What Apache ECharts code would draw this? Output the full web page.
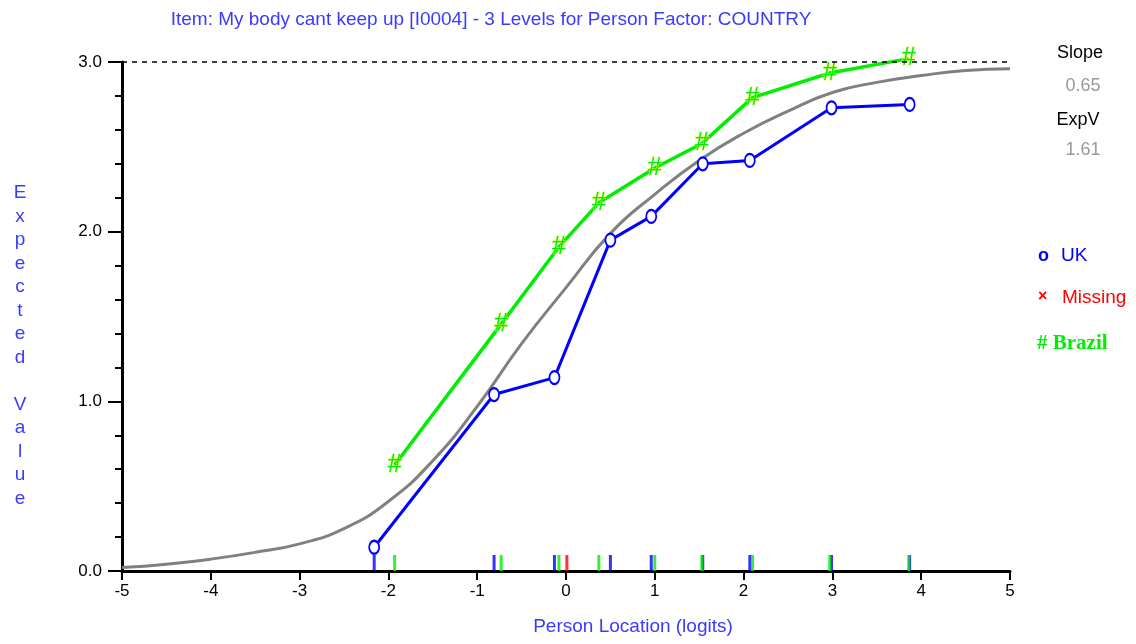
<!DOCTYPE html>
<html>
<head>
<meta charset="utf-8">
<script src="https://cdn.jsdelivr.net/npm/echarts@6/dist/echarts.min.js"></script>
<style>
html,body{margin:0;padding:0;background:#fff;}
#chart{width:1136px;height:644px;}
</style>
</head>
<body>
<div id="chart"></div>
<script>
// ---- data ----
const curveX = [-5,-4.5,-4,-3.5,-3,-2.5,-2,-1.5,-1,-0.5,0,0.5,1,1.5,2,2.5,3,3.5,4,4.5,5];
const curveY = [0.02,0.04,0.07,0.11,0.16,0.25,0.41,0.65,0.97,1.34,1.67,1.99,2.22,2.42,2.58,2.71,2.82,2.88,2.92,2.95,2.96];
const ukX = [-2.16,-0.81,-0.13,0.50,0.96,1.54,2.07,2.99,3.87];
const ukY = [0.14,1.04,1.14,1.95,2.09,2.40,2.42,2.73,2.75];
const brazilX = [-1.93,-0.73,-0.08,0.37,1.00,1.53,2.10,2.97,3.86];
const brazilY = [0.625,1.455,1.91,2.17,2.375,2.52,2.79,2.935,3.02];
const missingX = [0.01];
const yTicks = [0, 1, 2, 3];
const xTicks = [-5,-4,-3,-2,-1,0,1,2,3,4,5];
const titleText = 'Item: My body cant keep up [I0004] - 3 Levels for Person Factor: COUNTRY';
const slopeVal = '0.65';
const expVVal = '1.61';

const zip = (a, b) => a.map((v, i) => [v, b[i]]);
const FONT = '"Liberation Sans",Arial,sans-serif';
const BLUE = '#0000ff', GREEN = '#00ee00', RED = '#ff0000', GRAY = '#808080', TXTBLUE = '#3a3aff';

const chart = echarts.init(document.getElementById('chart'));
const option = {
  animation: false,
  backgroundColor: '#fff',
  grid: { left: 122, right: 126, top: 62, bottom: 73 },
  xAxis: {
    type: 'value', min: -5, max: 5, interval: 1,
    axisLine: { onZero: false, lineStyle: { color: '#000', width: 3 } },
    axisTick: { length: 9, lineStyle: { color: '#000', width: 2 } },
    axisLabel: { color: '#000', fontSize: 17, fontFamily: FONT, margin: 12,
      formatter: v => xTicks.includes(v) ? String(v) : '' },
    splitLine: { show: false }
  },
  yAxis: {
    type: 'value', min: 0, max: 3, interval: 1,
    axisLine: { show: true, onZero: false, lineStyle: { color: '#000', width: 3 } },
    axisTick: { show: true, length: 14, lineStyle: { color: '#000', width: 2 } },
    minorTick: { show: true, splitNumber: 5, length: 7, lineStyle: { color: '#000', width: 2 } },
    axisLabel: { color: '#000', fontSize: 17, fontFamily: FONT, margin: 20,
      formatter: v => yTicks.includes(v) ? v.toFixed(1) : '' },
    splitLine: { show: false }
  },
  series: [
    {
      name: 'Expected', type: 'line', smooth: true, showSymbol: false, clip: false,
      data: zip(curveX, curveY),
      lineStyle: { color: GRAY, width: 3 },
      markLine: {
        silent: true, symbol: 'none', label: { show: false },
        lineStyle: { color: '#000', type: [5, 5], width: 1.5 },
        data: [{ yAxis: 3 }]
      },
      z: 2
    },
    {
      name: 'UK', type: 'line', clip: false,
      data: zip(ukX, ukY),
      symbol: 'emptyCircle', symbolSize: [10, 13],
      itemStyle: { color: BLUE, borderColor: BLUE, borderWidth: 1.8 },
      lineStyle: { color: BLUE, width: 3 },
      z: 3
    },
    {
      name: 'Brazil', type: 'line', clip: false,
      data: zip(brazilX, brazilY),
      symbol: 'circle', symbolSize: 1,
      itemStyle: { color: GREEN },
      lineStyle: { color: GREEN, width: 3.5 },
      label: { show: true, position: 'inside', formatter: '#', color: GREEN,
        fontSize: 25, fontFamily: FONT, textBorderColor: '#d8ff40', textBorderWidth: 0.8 },
      z: 4
    },
    {
      name: 'UK ticks', type: 'scatter', clip: false,
      data: ukX.map(x => [x, 0]),
      symbol: 'rect', symbolSize: [3, 16], symbolOffset: [0, -8],
      itemStyle: { color: BLUE }, z: 5
    },
    {
      name: 'Brazil ticks', type: 'scatter', clip: false,
      data: brazilX.map(x => [x, 0]),
      symbol: 'rect', symbolSize: [3, 16], symbolOffset: [0, -8],
      itemStyle: { color: GREEN }, z: 5
    },
    {
      name: 'Missing ticks', type: 'scatter', clip: false,
      data: missingX.map(x => [x, 0]),
      symbol: 'rect', symbolSize: [3, 16], symbolOffset: [0, -8],
      itemStyle: { color: RED }, z: 6
    }
  ],
  graphic: [
    { type: 'text', x: 491, y: 20, style: { text: titleText, fill: TXTBLUE, font: '19px ' + FONT, textAlign: 'center', textVerticalAlign: 'middle' } },
    { type: 'text', x: 633, y: 627, style: { text: 'Person Location (logits)', fill: TXTBLUE, font: '19px ' + FONT, textAlign: 'center', textVerticalAlign: 'middle' } },
    { type: 'text', x: 20, y: 346, style: { text: 'E\nx\np\ne\nc\nt\ne\nd\n\nV\na\nl\nu\ne', fill: TXTBLUE, font: '19px ' + FONT, lineHeight: 23.5, textAlign: 'center', textVerticalAlign: 'middle' } },
    { type: 'text', x: 1080, y: 53, style: { text: 'Slope', fill: '#000', font: '18px ' + FONT, textAlign: 'center', textVerticalAlign: 'middle' } },
    { type: 'text', x: 1083, y: 86, style: { text: slopeVal, fill: '#999', font: '18px ' + FONT, textAlign: 'center', textVerticalAlign: 'middle' } },
    { type: 'text', x: 1078, y: 120, style: { text: 'ExpV', fill: '#000', font: '18px ' + FONT, textAlign: 'center', textVerticalAlign: 'middle' } },
    { type: 'text', x: 1083, y: 150, style: { text: expVVal, fill: '#999', font: '18px ' + FONT, textAlign: 'center', textVerticalAlign: 'middle' } },
    { type: 'text', x: 1038, y: 256, style: { text: 'o', fill: BLUE, font: 'bold 18px ' + FONT, textVerticalAlign: 'middle' } },
    { type: 'text', x: 1061, y: 256, style: { text: 'UK', fill: BLUE, font: '19px ' + FONT, textVerticalAlign: 'middle' } },
    { type: 'text', x: 1038, y: 297, style: { text: '×', fill: RED, font: 'bold 16px ' + FONT, textVerticalAlign: 'middle' } },
    { type: 'text', x: 1062, y: 298, style: { text: 'Missing', fill: RED, font: '19px ' + FONT, textVerticalAlign: 'middle' } },
    { type: 'text', x: 1037, y: 344, style: { text: '# Brazil', fill: GREEN, font: 'bold 21px "Liberation Serif",serif', textVerticalAlign: 'middle' } }
  ]
};
chart.setOption(option);
</script>
</body>
</html>
